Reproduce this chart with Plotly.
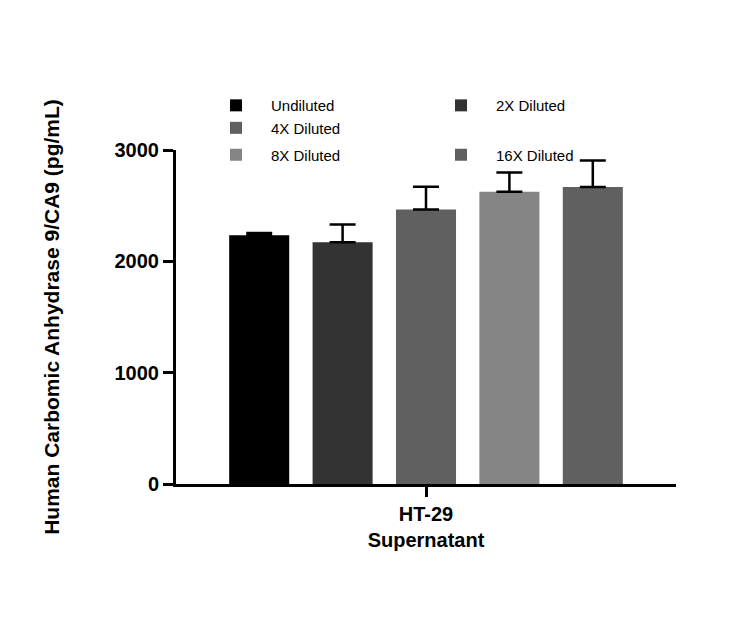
import plotly.graph_objects as go

categories = ["HT-29<br>Supernatant"]
series = ["Undiluted", "2X Diluted", "4X Diluted", "8X Diluted", "16X Diluted"]
means = [2234, 2171, 2465, 2624, 2667]
errors = [21, 159, 205, 174, 238]
colors = ["#000000", "#333333", "#606060", "#858585", "#606060"]
legend_ids = ["legend", "legend", "legend", "legend2", "legend2"]

fig = go.Figure()
for name, m, e, c, lg in zip(series, means, errors, colors, legend_ids):
    fig.add_trace(go.Bar(
        x=categories, y=[m], name=name, marker_color=c, marker_line_width=0,
        legend=lg,
        error_y=dict(type="data", array=[e], arrayminus=[0], symmetric=False,
                     color="black", thickness=2.5, width=13),
    ))

leg_common = dict(orientation="h", xanchor="center", yanchor="middle",
                  font=dict(size=15, family="Liberation Sans"),
                  bgcolor="rgba(0,0,0,0)", entrywidth=150, itemwidth=60)
fig.update_layout(
    width=750, height=621,
    paper_bgcolor="white", plot_bgcolor="white",
    margin=dict(l=168, r=82, t=142, b=145, autoexpand=False),
    barmode="group", bargap=0.166, bargroupgap=0.28,
    font=dict(family="Liberation Sans, Arial", color="black"),
    showlegend=True,
    legend=dict(x=0.5, y=1.10, **leg_common),
    legend2=dict(x=0.5, y=0.985, **leg_common),
    xaxis=dict(showline=True, linecolor="black", linewidth=3, ticks="outside",
               tickwidth=3, ticklen=10, tickcolor="black", automargin=False,
               tickfont=dict(size=20, family="Liberation Sans", weight="bold")),
    yaxis=dict(range=[0, 3000], tickvals=[0, 1000, 2000, 3000], showline=True,
               linecolor="black", linewidth=3, ticks="outside", tickwidth=3,
               ticklen=10, tickcolor="black", showgrid=False, zeroline=False,
               automargin=False,
               tickfont=dict(size=20, family="Liberation Sans", weight="bold"),
               title=dict(text="Human Carbomic Anhydrase 9/CA9 (pg/mL)",
                          font=dict(size=21, family="Liberation Sans", weight="bold"),
                          standoff=50)),
)
fig.write_html("out.html")
